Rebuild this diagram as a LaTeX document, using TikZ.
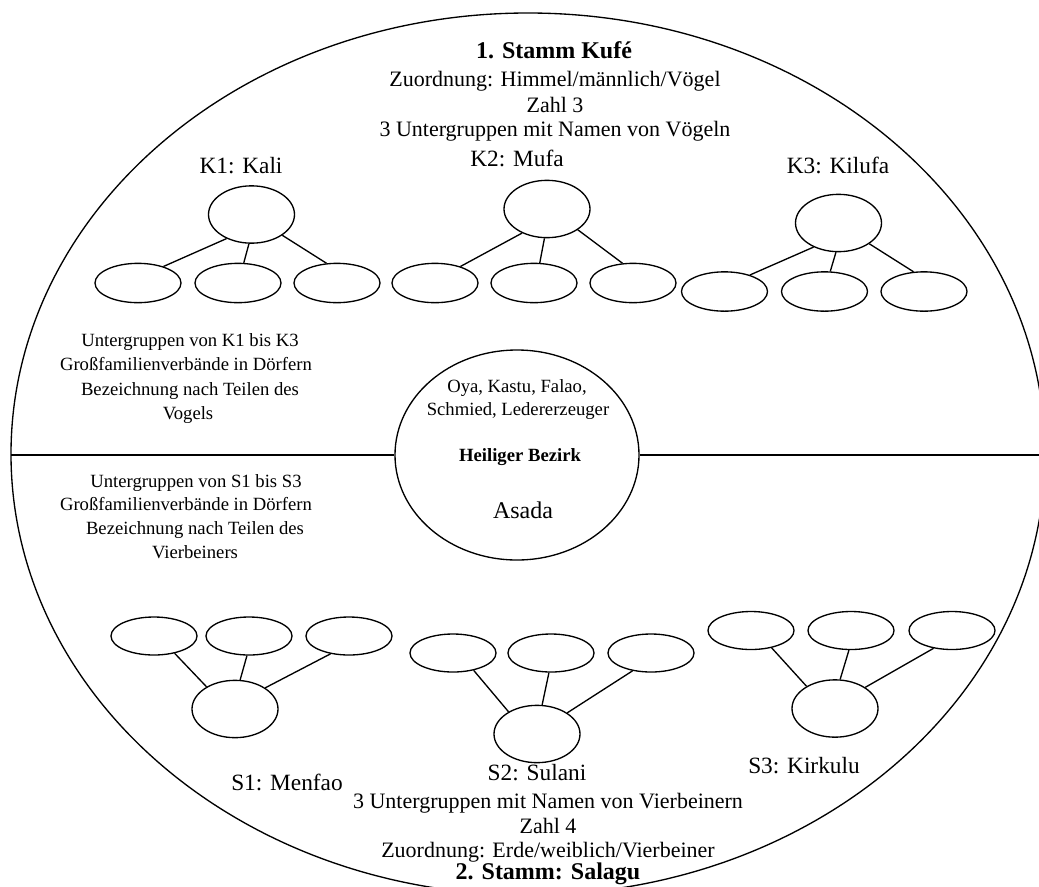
\documentclass[tikz,border=0pt]{standalone}
\usepackage{fontspec}
\setmainfont{Liberation Serif}
\usetikzlibrary{shapes.geometric}
\begin{document}
\begin{tikzpicture}[x=0.75pt,y=-0.75pt, line width=1pt,
  ov/.style={draw, ellipse, inner sep=0pt, minimum width=64.5pt},
  bigov/.style={ov, minimum height=43pt},
  smallov/.style={ov, minimum height=29.5pt},
  tinyov/.style={ov, minimum height=28.5pt},
  txt/.style={inner sep=0pt, text height=0.7em, text depth=0.2em, yshift=-2.25pt},
  body/.style={txt, font=\fontsize{16.5}{19}\selectfont},
  side/.style={txt, font=\fontsize{14}{17}\selectfont},
  ttl/.style={txt, font=\fontsize{18}{21}\selectfont\bfseries},
  lbl/.style={txt, font=\fontsize{17.5}{20}\selectfont}]
\useasboundingbox (0,0) rectangle (1039,886);
% outer ellipse
\node[draw, ellipse, inner sep=0pt, minimum width=775.5pt, minimum height=661.5pt] (world) at (528,454) {};
% central district
\node[draw, ellipse, inner sep=0pt, minimum width=183pt, minimum height=157.5pt] (bez) at (517,455) {};
\coordinate (hl) at (11,455);
\coordinate (hr) at (1045,455);
\draw (hl) -- (bez.west);
\draw (bez.east) -- (hr);
\node[side] (c1) at (517,386) {Oya, Kastu, Falao,};
\node[side] (c2) at (518,409) {Schmied, Ledererzeuger};
\node[side, font=\fontsize{14}{17}\selectfont\bfseries] (c3) at (520,455) {Heiliger Bezirk};
\node[lbl, font=\fontsize{18}{20}\selectfont] (c4) at (523,512) {Asada};
% top text
\node[ttl] (t1) at (554,52) {1. Stamm Kufé};
\node[body] (t2) at (555,80) {Zuordnung: Himmel/männlich/Vögel};
\node[body] (t3) at (555,106) {Zahl 3};
\node[body] (t4) at (555,130) {3 Untergruppen mit Namen von Vögeln};
% K labels
\node[lbl] (k1l) at (241,167) {K1: Kali};
\node[lbl] (k2l) at (517,160) {K2: Mufa};
\node[lbl] (k3l) at (838,167) {K3: Kilufa};
% K1
\node[bigov] (k1) at (251.5,214.5) {};
\node[smallov] (k1a) at (138,283) {};
\node[smallov] (k1b) at (238,283) {};
\node[smallov] (k1c) at (337,283) {};
% K2
\node[bigov] (k2) at (547,209) {};
\node[smallov] (k2a) at (435,283) {};
\node[smallov] (k2b) at (534,283) {};
\node[smallov] (k2c) at (633,283) {};
% K3
\node[bigov] (k3) at (838.5,223) {};
\node[smallov] (k3a) at (724.5,291.5) {};
\node[smallov] (k3b) at (824.5,291.5) {};
\node[smallov] (k3c) at (924,291.5) {};
\foreach \g in {k1,k2,k3}{
  \draw (\g.224) -- (\g a.33);
  \draw (\g.265) -- (\g b.74);
  \draw (\g.326) -- (\g c.118);
}
% left texts
\node[side] (u1) at (190,340) {Untergruppen von K1 bis K3};
\node[side] (u2) at (186,364) {Großfamilienverbände in Dörfern};
\node[side] (u3) at (190,389) {Bezeichnung nach Teilen des};
\node[side] (u4) at (188,413) {Vogels};
\node[side] (v1) at (196,481) {Untergruppen von S1 bis S3};
\node[side] (v2) at (186,504) {Großfamilienverbände in Dörfern};
\node[side] (v3) at (195,528) {Bezeichnung nach Teilen des};
\node[side] (v4) at (195,552) {Vierbeiners};
% S1
\node[tinyov] (s1a) at (154,636) {};
\node[tinyov] (s1b) at (249,636) {};
\node[tinyov] (s1c) at (349,636) {};
\node[bigov] (s1) at (235,709) {};
% S2
\node[tinyov] (s2a) at (453,653) {};
\node[tinyov] (s2b) at (551,653) {};
\node[tinyov] (s2c) at (651,653) {};
\node[bigov] (s2) at (537,734) {};
% S3
\node[tinyov] (s3a) at (751,630.5) {};
\node[tinyov] (s3b) at (851,630.5) {};
\node[tinyov] (s3c) at (952,630.5) {};
\node[bigov] (s3) at (835,708.5) {};
\foreach \g in {s1,s2,s3}{
  \draw (\g.142) -- (\g a.320);
  \draw (\g.80) -- (\g b.264);
  \draw (\g.35) -- (\g c.224);
}
% S labels
\node[lbl] (s1l) at (287,784) {S1: Menfao};
\node[lbl] (s2l) at (537,774) {S2: Sulani};
\node[lbl] (s3l) at (804,767) {S3: Kirkulu};
% bottom text
\node[body] (b1) at (548,802) {3 Untergruppen mit Namen von Vierbeinern};
\node[body] (b2) at (548,827) {Zahl 4};
\node[body] (b3) at (548,851) {Zuordnung: Erde/weiblich/Vierbeiner};
\node[ttl] (b4) at (548,873) {2. Stamm: Salagu};
\end{tikzpicture}
\end{document}
